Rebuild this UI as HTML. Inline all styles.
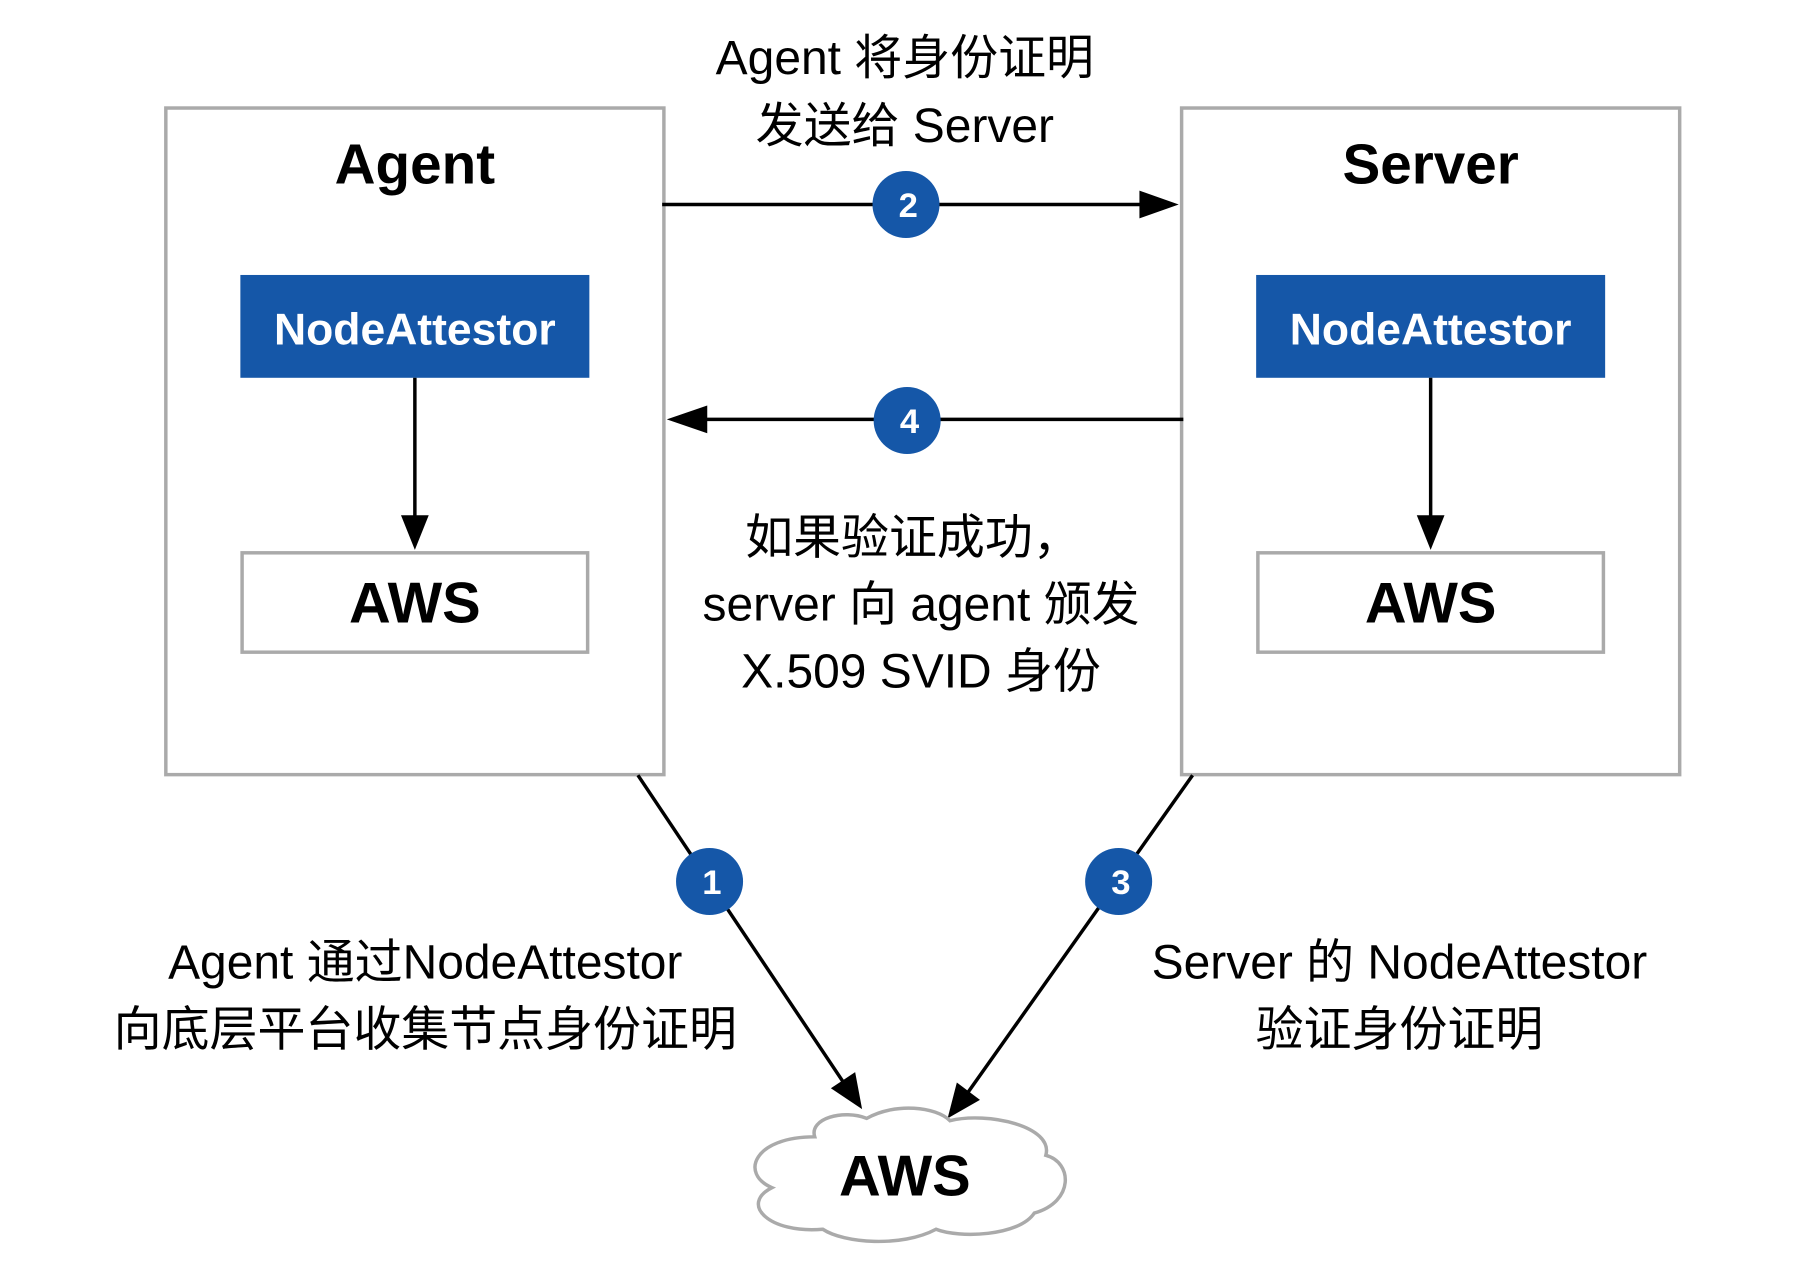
<!DOCTYPE html>
<html><head><meta charset="utf-8"><style>
html,body{margin:0;padding:0;background:#fff;}
svg{display:block;}
text{font-family:"Liberation Sans","Noto Sans CJK SC",sans-serif;}
</style></head><body>
<svg width="1812" height="1272" viewBox="0 0 1568 1101" preserveAspectRatio="none" xmlns="http://www.w3.org/2000/svg">
<rect width="1568" height="1101" fill="#fff"/>
<rect x="143.5" y="93.5" width="431" height="577" fill="none" stroke="#aaa" stroke-width="3"/>
<rect x="1022.5" y="93.5" width="431" height="577" fill="none" stroke="#aaa" stroke-width="3"/>
<text x="359" y="159" font-size="49" font-weight="bold" text-anchor="middle">Agent</text>
<text x="1238" y="159" font-size="49" font-weight="bold" text-anchor="middle">Server</text>
<rect x="208" y="238" width="302" height="89" fill="#1557a8"/>
<rect x="1087" y="238" width="302" height="89" fill="#1557a8"/>
<text x="359" y="298" font-size="38.5" font-weight="bold" fill="#fff" text-anchor="middle">NodeAttestor</text>
<text x="1238" y="298" font-size="38.5" font-weight="bold" fill="#fff" text-anchor="middle">NodeAttestor</text>
<rect x="209.5" y="478.5" width="299" height="86" fill="none" stroke="#aaa" stroke-width="3"/>
<rect x="1088.5" y="478.5" width="299" height="86" fill="none" stroke="#aaa" stroke-width="3"/>
<text x="359" y="539" font-size="50" font-weight="bold" text-anchor="middle">AWS</text>
<text x="1238" y="539" font-size="50" font-weight="bold" text-anchor="middle">AWS</text>
<line x1="359" y1="327" x2="359" y2="450" stroke="#000" stroke-width="3"/>
<polygon points="347,446 371,446 359,476" fill="#000"/>
<line x1="1238" y1="327" x2="1238" y2="450" stroke="#000" stroke-width="3"/>
<polygon points="1226,446 1250,446 1238,476" fill="#000"/>
<line x1="573" y1="177" x2="990" y2="177" stroke="#000" stroke-width="3"/>
<polygon points="986,165 986,189 1020,177" fill="#000"/>
<line x1="1024" y1="363" x2="608" y2="363" stroke="#000" stroke-width="3"/>
<polygon points="612,351 612,375 577,363" fill="#000"/>
<line x1="552" y1="671" x2="730" y2="937" stroke="#000" stroke-width="3"/>
<polygon points="719,942 740,928 746,960" fill="#000"/>
<line x1="1032" y1="671" x2="838" y2="945" stroke="#000" stroke-width="3"/>
<polygon points="828,937 848,952 820,968" fill="#000"/>
<g font-size="30" font-weight="bold" fill="#fff" text-anchor="middle">
<circle cx="784" cy="177" r="29" fill="#1557a8"/><text x="786" y="188" fill="#fff">2</text>
<circle cx="785" cy="364" r="29" fill="#1557a8"/><text x="787" y="375" fill="#fff">4</text>
<circle cx="614" cy="763" r="29" fill="#1557a8"/><text x="616" y="774" fill="#fff">1</text>
<circle cx="968" cy="763" r="29" fill="#1557a8"/><text x="970" y="774" fill="#fff">3</text>
</g>
<g font-size="41.5" text-anchor="middle" fill="#000">
<text x="783" y="64">Agent 将身份证明</text>
<text x="783" y="123">发送给 Server</text>
<text x="790" y="479">如果验证成功，</text>
<text x="797" y="537">server 向 agent 颁发</text>
<text x="797" y="595">X.509 SVID 身份</text>
<text x="368" y="847">Agent 通过NodeAttestor</text>
<text x="368" y="905">向底层平台收集节点身份证明</text>
<text x="1211" y="847">Server 的 NodeAttestor</text>
<text x="1211" y="905">验证身份证明</text>
</g>
<path d="M 705,984 C 700,968 730,960 750,968 C 775,954 810,958 822,970 C 855,962 912,975 905,1000 C 928,1006 930,1040 895,1050 C 882,1070 830,1072 810,1064 C 780,1080 730,1076 712,1064 C 665,1068 640,1042 668,1028 C 640,1016 652,984 705,984 Z" fill="#fff" stroke="#aaa" stroke-width="3"/>
<text x="783" y="1035" font-size="50" font-weight="bold" text-anchor="middle">AWS</text>
</svg>
</body></html>
